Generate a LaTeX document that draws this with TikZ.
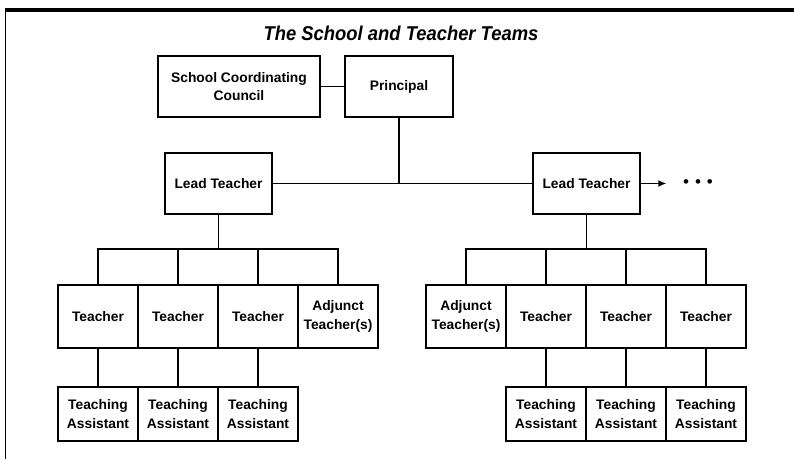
\documentclass[tikz,border=0pt]{standalone}
\usepackage{fontspec}
\setmainfont{Liberation Sans}
\newfontfamily\titlefont{Liberation Sans}[FakeStretch=0.92]
\usetikzlibrary{arrows.meta,positioning}

\begin{document}
\begin{tikzpicture}[x=1pt,y=-1pt,line width=1.5pt,
orgbox/.style={draw,align=center,inner sep=1pt,outer sep=0pt,font=\fontsize{13.8}{18.5}\selectfont\bfseries},
teambox/.style={orgbox,minimum width=80pt,minimum height=63pt},
aidebox/.style={orgbox,minimum width=80pt,minimum height=54pt}]
\useasboundingbox (0,0) rectangle (794,459);
\draw[line width=4pt] (5,10) -- (794,10);
\draw[line width=0.8pt] (5,10) -- (5,459);
\node[font=\titlefont\fontsize{20}{24}\selectfont\bfseries\itshape] (title) at (401,33) {The School and Teacher Teams};
\node[orgbox,minimum width=162pt,minimum height=61pt] (council) at (239,86.5) {School Coordinating\\Council};
\node[orgbox,minimum width=108pt,minimum height=61pt,right=25pt of council] (principal) {Principal};
\node[orgbox,minimum width=107pt,minimum height=61pt] (leadL) at (218.5,183.5) {Lead Teacher};
\node[orgbox,minimum width=107pt,minimum height=61pt] (leadR) at (586.5,183.5) {Lead Teacher};
\node[inner sep=0pt,font=\fontsize{17}{18}\selectfont] (more) at (698,183.5) {\textbullet\hspace{6pt}\textbullet\hspace{6pt}\textbullet};
\node[teambox] (tL1) at (98,316.5) {Teacher};
\node[teambox,right=0pt of tL1] (tL2) {Teacher};
\node[teambox,right=0pt of tL2] (tL3) {Teacher};
\node[teambox,right=0pt of tL3] (aL) {Adjunct\\Teacher(s)};
\node[aidebox,below=39pt of tL1] (sL1) {Teaching\\Assistant};
\node[aidebox,below=39pt of tL2] (sL2) {Teaching\\Assistant};
\node[aidebox,below=39pt of tL3] (sL3) {Teaching\\Assistant};
\node[teambox] (aR) at (466,316.5) {Adjunct\\Teacher(s)};
\node[teambox,right=0pt of aR] (tR1) {Teacher};
\node[teambox,right=0pt of tR1] (tR2) {Teacher};
\node[teambox,right=0pt of tR2] (tR3) {Teacher};
\node[aidebox,below=39pt of tR1] (sR1) {Teaching\\Assistant};
\node[aidebox,below=39pt of tR2] (sR2) {Teaching\\Assistant};
\node[aidebox,below=39pt of tR3] (sR3) {Teaching\\Assistant};
\draw (council) -- (principal);
\draw (leadL) -- (leadR);
\draw (principal) -- (principal |- leadL);
\draw[-{Latex[length=8pt,width=7pt]},shorten >=16pt] (leadR) -- (more);
\foreach \t in {tL1,tL2,tL3,aL} \draw (leadL.south) -- ++(0,35) -| (\t.north);
\foreach \t in {aR,tR1,tR2,tR3} \draw (leadR.south) -- ++(0,35) -| (\t.north);
\foreach \t/\s in {tL1/sL1,tL2/sL2,tL3/sL3,tR1/sR1,tR2/sR2,tR3/sR3} \draw (\t) -- (\s);
\end{tikzpicture}
\end{document}
